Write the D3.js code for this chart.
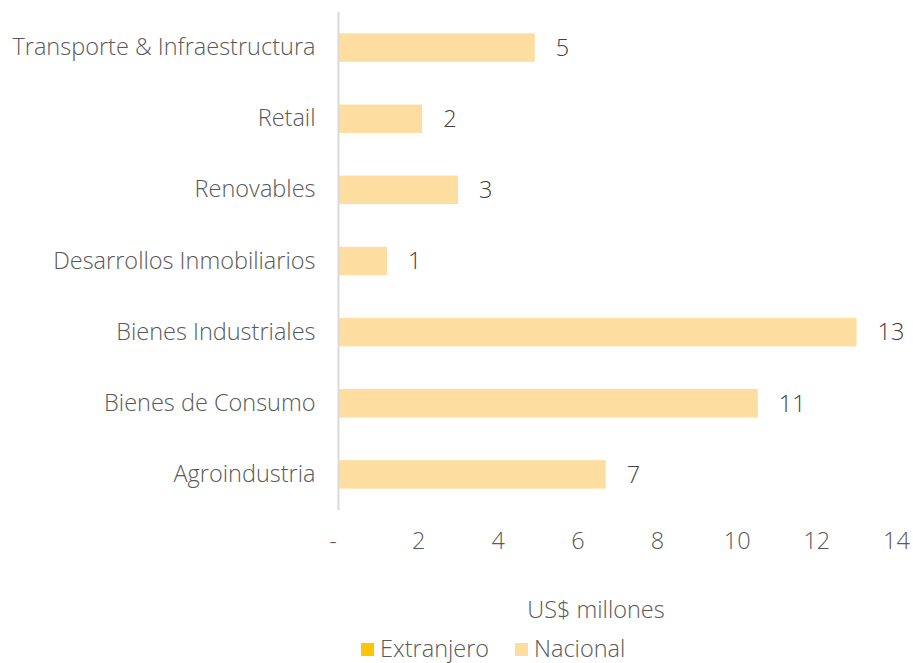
<!DOCTYPE html>
<html>
<head>
<meta charset="utf-8">
<script src="https://cdn.jsdelivr.net/npm/d3@7"></script>
<style>
body { margin: 0; background: #fff; }
text { font-family: "Open Sans", Roboto, sans-serif; font-weight: 300; fill: #595959; }
</style>
</head>
<body>
<script>
var categories = ["Transporte & Infraestructura", "Retail", "Renovables", "Desarrollos Inmobiliarios", "Bienes Industriales", "Bienes de Consumo", "Agroindustria"];
var extranjero = [0, 0, 0, 0, 0, 0, 0];
var nacional = [4.93, 2.1, 3.0, 1.22, 13.01, 10.53, 6.71];
var xTicks = [0, 2, 4, 6, 8, 10, 12, 14];
var seriesNames = ["Extranjero", "Nacional"];
var colors = ["#FFC600", "#FEDDA0"];

var fs = "23.5px";
var w = 913, h = 663;
var svg = d3.select("body").append("svg")
    .attr("width", w)
    .attr("height", h);

var x = d3.scaleLinear().domain([0, 14]).range([338.5, 896]);
var y = d3.scaleBand().domain(categories).range([12, 510]).paddingInner(0.6).paddingOuter(0.3);

var rows = categories.map(function(c, i){
    return {cat: c, Extranjero: extranjero[i], Nacional: nacional[i]};
});
var stacked = d3.stack().keys(seriesNames)(rows);

svg.selectAll("g.series")
    .data(stacked)
    .enter()
    .append("g")
    .attr("fill", function(d, i){ return colors[i]; })
    .selectAll("rect")
    .data(function(d){ return d; })
    .enter()
    .append("rect")
    .attr("x", function(d){ return x(d[0]); })
    .attr("y", function(d){ return y(d.data.cat); })
    .attr("width", function(d){ return x(d[1]) - x(d[0]); })
    .attr("height", y.bandwidth());

// value labels
svg.selectAll("text.val")
    .data(rows)
    .enter()
    .append("text")
    .attr("class", "val")
    .attr("x", function(d){ return x(d.Extranjero + d.Nacional) + 21; })
    .attr("y", function(d){ return y(d.cat) + y.bandwidth() / 2; })
    .attr("dy", "0.35em")
    .style("font-size", fs)
    .style("fill", "#404040")
    .text(function(d){ return Math.round(d.Extranjero + d.Nacional); });

// category axis
var yAxis = svg.append("g")
    .attr("transform", "translate(" + x(0) + ",0)")
    .call(d3.axisLeft(y).tickSize(0).tickPadding(23));
yAxis.select(".domain").attr("stroke", "#d9d9d9").attr("stroke-width", 2)
    .attr("d", "M0,12V510");
yAxis.selectAll("text").style("font-size", fs).style("fill", "#595959");

// value axis
var xAxis = svg.append("g")
    .attr("transform", "translate(0,541)")
    .call(d3.axisBottom(x).tickValues(xTicks).tickSize(0).tickPadding(0)
        .tickFormat(function(d){ return d === 0 ? "-" : d; }));
xAxis.select(".domain").remove();
xAxis.selectAll("text").attr("dy", "0.35em").attr("y", 0)
    .style("font-size", fs).style("fill", "#595959")
    .attr("dx", function(d){ return d === 0 ? "-6" : "0"; });
yAxis.attr("font-family", null);
xAxis.attr("font-family", null);

svg.append("text")
    .attr("x", 596)
    .attr("y", 610)
    .attr("dy", "0.35em")
    .attr("text-anchor", "middle")
    .style("font-size", fs)
    .text("US$ millones");

// legend
var legendX = [361, 515];
var legend = svg.selectAll("g.legend")
    .data(seriesNames)
    .enter()
    .append("g")
    .attr("transform", function(d, i){ return "translate(" + legendX[i] + ",649)"; });
legend.append("rect")
    .attr("x", 0).attr("y", -6)
    .attr("width", 13).attr("height", 13)
    .attr("fill", function(d, i){ return colors[i]; });
legend.append("text")
    .attr("x", 19)
    .attr("y", 0)
    .attr("dy", "0.35em")
    .style("font-size", fs)
    .text(function(d){ return d; });
</script>
</body>
</html>
